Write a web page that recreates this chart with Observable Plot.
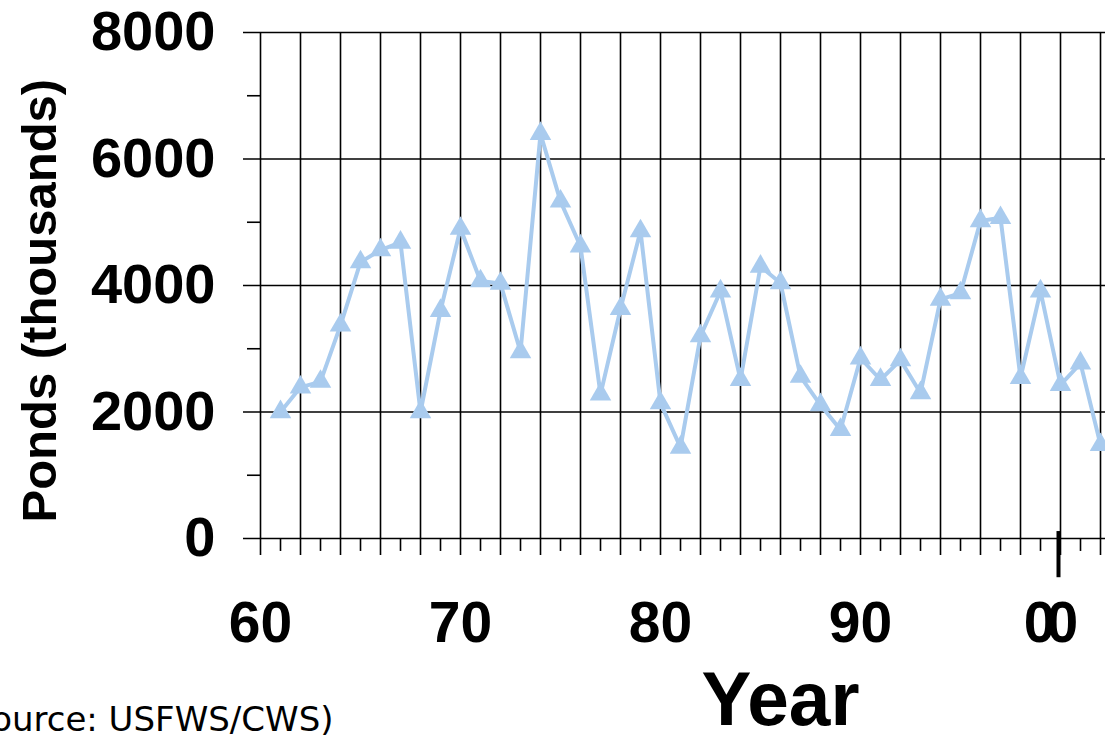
<!DOCTYPE html>
<html>
<head>
<meta charset="utf-8">
<script src="https://cdn.jsdelivr.net/npm/d3@7"></script>
<script src="https://cdn.jsdelivr.net/npm/@observablehq/plot@0.6"></script>
<style>
  html, body { margin: 0; padding: 0; background: #fff; }
  #chart svg { display: block; }
</style>
</head>
<body>
<div id="chart"></div>
<script>
// ---- data ----
const years = [1961, 1962, 1963, 1964, 1965, 1966, 1967, 1968, 1969, 1970,
               1971, 1972, 1973, 1974, 1975, 1976, 1977, 1978, 1979, 1980,
               1981, 1982, 1983, 1984, 1985, 1986, 1987, 1988, 1989, 1990,
               1991, 1992, 1993, 1994, 1995, 1996, 1997, 1998, 1999, 2000,
               2001, 2002];
const ponds = [2000, 2390, 2480, 3370, 4370, 4560, 4680, 2000, 3600, 4900,
               4070, 4030, 2950, 6400, 5330, 4620, 2280, 3630, 4860, 2140,
               1440, 3200, 3910, 2510, 4300, 4040, 2560, 2110, 1720, 2850,
               2510, 2820, 2300, 3780, 3880, 5020, 5070, 2540, 3910, 2430,
               2770, 1480];
const yMajorTicks = [0, 2000, 4000, 6000, 8000];
const yMinorTicks = [1000, 3000, 5000, 7000];
const gridYears = [1960, 1962, 1964, 1966, 1968, 1970, 1972, 1974, 1976, 1978,
                   1980, 1982, 1984, 1986, 1988, 1990, 1992, 1994, 1996, 1998,
                   2000, 2002];
const oddYears = [1961, 1963, 1965, 1967, 1969, 1971, 1973, 1975, 1977, 1979,
                  1981, 1983, 1985, 1987, 1989, 1991, 1993, 1995, 1997, 1999,
                  2001];
const xLabelYears = [1960, 1970, 1980, 1990];
const xLabelTexts = ["60", "70", "80", "90"];
const lastLabelYear = [2000];
const lastLabelText = ["00"];
const markerYear = [2000];
const yTitle = "Ponds (thousands)";
const xTitle = "Year";
const sourceText = "(Source: USFWS/CWS)";

const data = years.map((year, i) => ({year, ponds: ponds[i]}));

const blue = "#a9cbee";
const bold = "Liberation Sans, Arial, sans-serif";

const chart = Plot.plot({
  width: 1105,
  height: 735,
  marginLeft: 260,
  marginRight: 0,
  marginTop: 32,
  marginBottom: 197,
  x: {domain: [1960, 2002.25], axis: null},
  y: {domain: [0, 8000], axis: null},
  marks: [
    // horizontal gridlines (extend left as ticks)
    Plot.ruleY(yMajorTicks, {y: d => d, x1: 1959.15, x2: 2002.25, stroke: "black", strokeWidth: 1.6}),
    Plot.ruleY(yMinorTicks, {y: d => d, x1: 1959.35, x2: 1960, stroke: "black", strokeWidth: 1.6}),
    // vertical gridlines (extend below axis as ticks)
    Plot.ruleX(gridYears, {x: d => d, y1: -270, y2: 8000, stroke: "black", strokeWidth: 1.6}),
    Plot.ruleX(oddYears, {x: d => d, y1: -205, y2: 0, stroke: "black", strokeWidth: 1.6}),
    // thick marker at 2000
    Plot.ruleX(markerYear, {x: d => d, y1: -620, y2: 110, stroke: "black", strokeWidth: 4, dx: -2}),
    // series
    Plot.line(data, {x: "year", y: "ponds", stroke: blue, strokeWidth: 4}),
    Plot.dot(data, {x: "year", y: "ponds", symbol: "triangle", r: 8, fill: blue, stroke: "none"}),
    // y tick labels
    Plot.text(yMajorTicks, {x: 1960, y: d => d, text: d => String(d), textAnchor: "end", dx: -45,
      fontSize: 56, fontWeight: "bold", fontFamily: bold, fill: "black"}),
    // x tick labels
    Plot.text(xLabelYears, {x: d => d, y: -1350, text: (d, i) => xLabelTexts[i],
      fontSize: 57, fontWeight: "bold", fontFamily: bold, fill: "black"}),
    Plot.text(lastLabelYear, {x: d => d, y: -1350, text: (d, i) => lastLabelText[i], dx: -14,
      fontSize: 57, fontWeight: "bold", fontFamily: bold, fill: "black", className: "lastlabel"}),
    // axis titles
    Plot.text([xTitle], {x: 1986, y: -2560, text: d => d,
      fontSize: 76, fontWeight: "bold", fontFamily: bold, fill: "black", className: "xtitle"}),
    Plot.text([yTitle], {x: 1960, y: 3760, text: d => d, rotate: -90, dx: -220,
      fontSize: 49, fontWeight: "bold", fontFamily: bold, fill: "black"}),
    // source
    Plot.text([sourceText], {x: 1963.65, y: -3050, text: d => d, textAnchor: "end", lineAnchor: "bottom",
      fontSize: 34, fontFamily: "DejaVu Sans, sans-serif", fill: "black"})
  ]
});

d3.select(chart).selectAll(".lastlabel text").attr("letter-spacing", "-9px");
d3.select(chart).selectAll(".xtitle text").attr("textLength", 158).attr("lengthAdjust", "spacingAndGlyphs");
document.getElementById("chart").appendChild(chart);
</script>
</body>
</html>
